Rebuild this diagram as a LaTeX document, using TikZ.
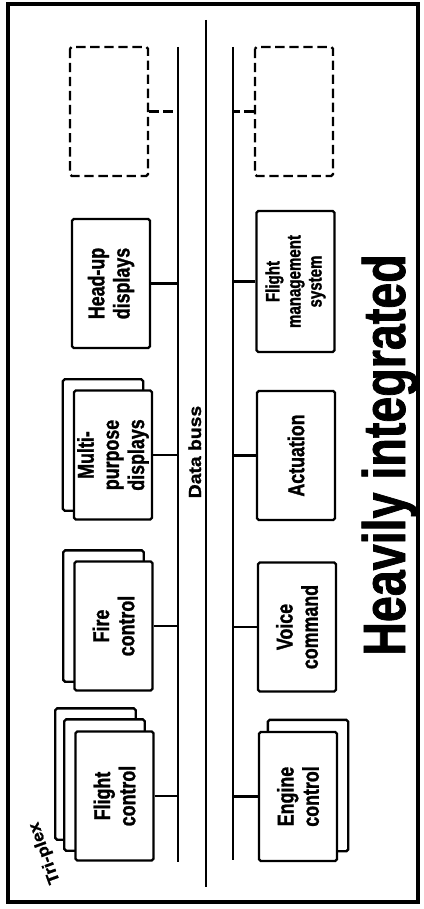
\documentclass[tikz,border=0pt]{standalone}
\usepackage{fontspec}
\setmainfont{Liberation Sans}
\newfontfamily\condfont[FakeStretch=0.78, BoldFeatures={FakeBold=1.2}]{Liberation Sans}
\newfontfamily\widefont[FakeStretch=1.1, BoldFeatures={FakeBold=1.2}]{Liberation Sans}
\usepackage{tikz}
\usetikzlibrary{calc,backgrounds}

\begin{document}
\begin{tikzpicture}[x=0.03cm, y=-0.03cm, line width=2pt,
    unit/.style={draw, fill=white, rounded corners=1.5pt, rotate=90, align=center,
      minimum width=3.87cm, minimum height=2.34cm, inner sep=2pt,
      font=\condfont\bfseries\fontsize{19.5}{21.5}\selectfont},
    spare/.style={unit, dash pattern=on 8pt off 4pt},
    ghost/.style={draw, fill=white, line width=2pt, rounded corners=1.5pt}]
    \useasboundingbox (0,0) rectangle (423,909);
    \draw[line width=2.6pt] (8,4) rectangle (418,902);
    % data buss
    \coordinate (dtop) at (206,20);
    \coordinate (dbot) at (206,887);
    \coordinate (ltop) at (178,47);
    \coordinate (lbot) at (178,862);
    \coordinate (rtop) at (233,47);
    \coordinate (rbot) at (233,860);
    \draw (dtop) -- (dbot);
    \draw (ltop) -- (lbot);
    \draw (rtop) -- (rbot);
    \node[rotate=90, anchor=base, font=\widefont\bfseries\fontsize{15}{18}\selectfont]
        (databuss) at (201,452) {Data buss};
    % left side units
    \node[spare] (lspare) at (109,111.5) {};
    \node[unit] (hud) at (111,283.5) {Head-up\\displays};
    \node[unit] (mpd) at (113,455) {Multi-\\purpose\\displays};
    \node[unit] (fire) at (113.5,626) {Fire\\control};
    \node[unit] (flight) at (114.5,796) {Flight\\control};
    % right side units
    \node[spare] (rspare) at (294,111.5) {};
    \node[unit, minimum width=4.23cm, font=\condfont\bfseries\fontsize{16.5}{18}\selectfont]
        (fms) at (295.5,281.5) {Flight\\management\\system};
    \node[unit] (act) at (296,455.5) {Actuation};
    \node[unit] (voice) at (297,627) {Voice\\command};
    \node[unit] (engine) at (298,796.5) {Engine\\control};
    % copies behind
    \begin{scope}[on background layer]
        \draw[ghost] ($(flight.north east)+(-19,-22)$) rectangle ($(flight.south west)+(-19,-22)$);
        \draw[ghost] ($(flight.north east)+(-10,-11)$) rectangle ($(flight.south west)+(-10,-11)$);
        \draw[ghost] ($(fire.north east)+(-10,-10)$) rectangle ($(fire.south west)+(-10,-10)$);
        \draw[ghost] ($(mpd.north east)+(-10,-10)$) rectangle ($(mpd.south west)+(-10,-10)$);
        \draw[ghost] ($(engine.north east)+(10,-11)$) rectangle ($(engine.south west)+(10,-11)$);
    \end{scope}
    % links to the buss
    \foreach \n in {hud,mpd,fire,flight}
        \draw (\n.south) -- (\n.south -| ltop);
    \foreach \n in {fms,act,voice,engine}
        \draw (\n.north) -- (\n.north -| rtop);
    \draw[dash pattern=on 8pt off 4pt] (lspare.south) -- (lspare.south -| ltop);
    \draw[dash pattern=on 8pt off 4pt] (rspare.north) -- (rspare.north -| rtop);
    \node[rotate=110, font=\widefont\bfseries\fontsize{14}{16}\selectfont] (triplex) at (45,853) {Tri-plex};
    \node[rotate=90, anchor=base, font=\condfont\bfseries\fontsize{51}{60}\selectfont]
        (title) at (405,455) {Heavily integrated};
\end{tikzpicture}
\end{document}
